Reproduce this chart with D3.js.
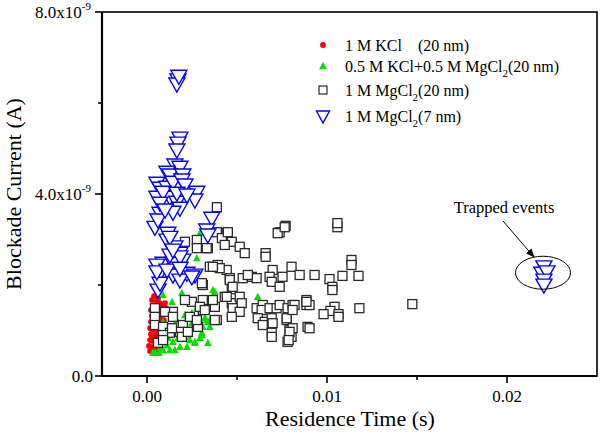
<!DOCTYPE html>
<html><head><meta charset="utf-8">
<script src="https://cdn.jsdelivr.net/npm/d3@7"></script>
<style>
html,body{margin:0;padding:0;background:#fff;}
svg{display:block;}
</style></head>
<body><svg id="c" width="600" height="435"></svg>
<script>
// Residence time in ms, blockade current in nA (x10^-9 A)
const kclX = [0.61,0.55,0.72,0.44,0.66,0.89,1.05,0.33,0.50,0.72,0.89,0.28,0.44,0.61,0.78,0.22,0.39,0.55,0.72,0.17,0.33,0.50,0.66,0.22,0.39,0.55,0.17,0.33,0.50,0.11,0.28,0.44,0.17,0.33,0.55,0.83,0.78,0.61,0.94,2.38,0.28,0.39,0.22,0.61,0.44,0.28,0.66,0.94,1.00,0.83];
const kclY = [1.71,1.63,1.60,1.54,1.52,1.54,1.49,1.43,1.41,1.41,1.38,1.32,1.27,1.30,1.25,1.19,1.16,1.14,1.12,1.05,1.03,1.01,0.99,0.92,0.90,0.88,0.79,0.77,0.75,0.66,0.64,0.66,0.55,0.53,0.57,1.01,0.79,0.68,1.23,0.90,1.67,1.76,1.45,1.19,1.05,0.84,0.84,1.45,1.60,1.12];

const mixX = [3.77,6.15,2.77,2.94,2.94,3.21,2.66,3.05,3.38,1.94,1.39,0.89,0.33,3.32,3.49,2.77,3.49,3.10,2.49,1.83,1.44,1.11,1.83,2.22,2.66,2.94,0.72,0.44,0.89,1.55,1.16,0.83,0.89,3.38,1.99,3.05,2.11,2.38,1.72,1.27,1.66,2.11,2.49,1.27,1.00,3.66,0.66];
const mixY = [1.85,1.74,2.59,3.14,1.27,1.27,0.73,0.90,1.19,1.82,1.63,1.78,0.51,1.23,1.08,1.49,1.23,1.08,1.16,1.01,0.75,0.68,0.64,0.64,0.75,0.84,0.62,0.51,0.57,0.57,0.84,1.05,1.19,0.73,0.95,0.95,0.86,0.79,0.84,1.01,1.23,1.34,1.38,0.57,0.79,1.89,0.51];

const mg20X = [3.88,7.37,7.70,7.26,3.88,4.43,4.16,4.71,4.32,5.15,5.43,3.38,2.77,2.77,6.59,6.59,3.49,3.93,4.43,4.60,4.71,5.32,5.82,6.09,5.60,6.98,6.81,7.53,6.93,7.37,8.03,8.48,9.31,3.10,4.32,4.76,4.71,5.15,5.26,4.76,5.15,4.71,3.77,3.10,3.10,6.09,6.43,6.37,6.81,7.20,7.37,7.81,8.09,6.15,6.54,6.93,6.98,6.43,6.93,6.93,7.76,7.92,8.03,7.81,8.20,8.86,8.86,8.92,3.88,2.77,2.83,10.58,10.58,11.36,11.36,10.14,10.86,11.75,10.30,10.30,11.80,10.42,10.19,9.81,10.64,10.64,14.74,9.03,9.03,7.65,7.76,8.09,7.92,7.87,8.86,8.09,2.11,3.32,4.49,3.05,2.49,2.11,1.44,1.00,0.44,0.44,0.44,0.89,1.44,1.99,2.38,1.83,1.27,0.89,1.39,1.94,0.61,0.89,2.77,2.27,2.94,3.77,4.43,3.66,3.21,4.04,4.60,4.76,3.66];
const mg20Y = [3.71,3.16,3.30,3.14,3.16,3.14,3.03,2.95,2.88,2.84,2.70,2.81,2.99,2.81,2.70,2.62,2.40,2.44,2.33,2.15,1.96,2.15,2.18,2.15,2.22,2.33,2.18,2.18,2.07,1.96,2.40,2.22,2.22,2.00,1.74,1.71,1.60,1.74,1.60,1.49,1.41,1.30,1.52,1.67,1.45,1.49,1.56,1.45,1.49,1.49,1.56,1.49,1.56,1.27,1.19,1.27,1.16,1.12,0.95,0.86,1.23,1.01,0.86,0.75,1.56,1.67,1.56,1.08,1.23,1.19,1.08,3.27,3.36,2.55,2.44,2.13,2.20,2.20,1.96,1.89,1.49,1.52,1.43,1.36,1.36,1.30,1.58,1.05,1.56,3.27,1.27,1.05,0.97,0.79,1.63,1.45,2.95,2.81,3.16,2.04,1.63,1.67,1.41,1.41,1.49,1.30,1.12,1.08,1.30,1.12,1.30,0.97,0.95,0.90,1.05,0.86,0.73,0.79,1.23,0.97,1.52,1.23,1.74,1.67,1.45,2.37,2.11,1.96,2.40];

const mg7X = [1.72,1.66,1.77,1.83,1.72,1.66,1.55,1.83,1.11,1.27,1.99,0.55,0.72,1.11,1.44,1.94,2.11,2.77,2.66,0.55,1.27,1.66,1.83,0.72,1.44,3.60,0.89,1.66,0.72,0.44,0.61,1.16,1.11,1.55,1.83,3.32,3.38,1.99,0.89,0.55,1.44,1.27,1.83,0.72,1.44,2.22,2.66,1.83,0.61,0.72,1.27,1.44,0.55,1.11,1.83,2.49,1.00,2.22,22.05,21.94,22.22,22.05,22.05];
const mg7Y = [6.51,6.42,6.59,5.23,5.12,4.97,4.64,4.59,4.48,4.42,4.42,4.24,4.13,4.15,4.26,4.31,4.20,4.04,3.87,3.93,3.93,3.82,3.69,3.58,3.60,3.47,4.04,4.02,3.80,3.27,3.43,3.14,2.99,2.84,2.70,3.21,3.10,2.55,2.48,2.44,2.48,2.66,2.62,2.26,2.22,2.26,2.22,2.11,1.89,2.04,3.05,2.77,2.29,2.33,2.37,2.18,3.65,3.98,2.40,2.26,2.29,2.11,2.00];

const xMajor = [0, 10, 20];
const xMajorLabels = ["0.00", "0.01", "0.02"];
const xMinor = [5, 15];
const yMajor = [0, 4, 8];
const yMajorLabels = ["0.0", "4.0x10", "8.0x10"];
const yMajorExp = ["", "-9", "-9"];
const yMinor = [2, 6];

const legendLabels = [
  [["1 M KCl    (20 nm)", ""]],
  [["0.5 M KCl+0.5 M MgCl", "2"], ["(20 nm)", ""]],
  [["1 M MgCl", "2"], ["(20 nm)", ""]],
  [["1 M MgCl", "2"], ["(7 nm)", ""]]
];

const FONT = "'Liberation Serif', 'Times New Roman', serif";
const svg = d3.select("#c");
const L = 102, R = 597, T = 12, B = 376;
const x = d3.scaleLinear().domain([-2.5, 25]).range([L, R]);
const y = d3.scaleLinear().domain([0, 8]).range([B, T]);

const zip = (a, b) => a.map((v, i) => [v, b[i]]);

const g = svg.append("g");
g.selectAll(".kcl").data(zip(kclX, kclY)).join("circle")
  .attr("cx", d => x(d[0])).attr("cy", d => y(d[1])).attr("r", 2.9).attr("fill", "#ff0000");

const triUp = (s) => `M0,${-s*0.6}L${s*0.55},${s*0.45}L${-s*0.55},${s*0.45}Z`;
g.selectAll(".mix").data(zip(mixX, mixY)).join("path")
  .attr("transform", d => `translate(${x(d[0])},${y(d[1])})`)
  .attr("d", triUp(7)).attr("fill", "#00e000");

g.selectAll(".mg20").data(zip(mg20X, mg20Y)).join("rect")
  .attr("x", d => x(d[0]) - 4.5).attr("y", d => y(d[1]) - 4.5)
  .attr("width", 9).attr("height", 9)
  .attr("fill", "#fff").attr("stroke", "#2a2a2a").attr("stroke-width", 1.3);

const triDown = (w, h) => `M${-w/2},${-h*0.42}L${w/2},${-h*0.42}L0,${h*0.58}Z`;
g.selectAll(".mg7").data(zip(mg7X, mg7Y)).join("path")
  .attr("transform", d => `translate(${x(d[0])},${y(d[1])})`)
  .attr("d", triDown(16, 14)).attr("fill", "#fff").attr("stroke", "#0000ff").attr("stroke-width", 1.4);

svg.append("rect").attr("x", L).attr("y", T).attr("width", R - L).attr("height", B - T)
  .attr("fill", "none").attr("stroke", "#000").attr("stroke-width", 1.6);
svg.append("line").attr("x1", L).attr("x2", L).attr("y1", T).attr("y2", B + 1).attr("stroke", "#000").attr("stroke-width", 2.2);
svg.append("line").attr("x1", L - 1).attr("x2", R).attr("y1", B).attr("y2", B).attr("stroke", "#000").attr("stroke-width", 2.2);

yMajor.forEach((v, i) => {
  svg.append("line").attr("x1", L - 7).attr("x2", L).attr("y1", y(v)).attr("y2", y(v)).attr("stroke", "#000").attr("stroke-width", 1.6);
  const t = svg.append("text").attr("x", yMajorExp[i] ? 91 : 93).attr("y", y(v) + 6)
    .attr("text-anchor", "end").attr("font-size", 17).style("font-family", FONT);
  t.append("tspan").text(yMajorLabels[i]);
  if (yMajorExp[i]) t.append("tspan").attr("dy", -8).attr("font-size", 11).text(yMajorExp[i]);
});
yMinor.forEach(v => {
  svg.append("line").attr("x1", L - 4).attr("x2", L).attr("y1", y(v)).attr("y2", y(v)).attr("stroke", "#000").attr("stroke-width", 1.6);
});
xMajor.forEach((v, i) => {
  svg.append("line").attr("x1", x(v)).attr("x2", x(v)).attr("y1", B).attr("y2", B + 7).attr("stroke", "#000").attr("stroke-width", 1.6);
  svg.append("text").attr("x", x(v)).attr("y", 402).attr("text-anchor", "middle").attr("font-size", 17)
    .style("font-family", FONT).text(xMajorLabels[i]);
});
xMinor.forEach(v => {
  svg.append("line").attr("x1", x(v)).attr("x2", x(v)).attr("y1", B).attr("y2", B + 4).attr("stroke", "#000").attr("stroke-width", 1.6);
});

svg.append("text").attr("transform", "translate(21,194) rotate(-90)").attr("text-anchor", "middle")
  .attr("font-size", 22).style("font-family", FONT).text("Blockade Current (A)");
svg.append("text").attr("x", 350).attr("y", 426).attr("text-anchor", "middle")
  .attr("font-size", 22).style("font-family", FONT).text("Residence Time (s)");

const legY = [45, 66, 90, 116];
const lx = 323;
svg.append("circle").attr("cx", lx).attr("cy", legY[0]).attr("r", 2.9).attr("fill", "#ff0000");
svg.append("path").attr("transform", `translate(${lx},${legY[1]})`).attr("d", triUp(7)).attr("fill", "#00e000");
svg.append("rect").attr("x", lx - 4).attr("y", legY[2] - 4).attr("width", 8).attr("height", 8)
  .attr("fill", "#fff").attr("stroke", "#2a2a2a").attr("stroke-width", 1.2);
svg.append("path").attr("transform", `translate(${lx},${legY[3]})`).attr("d", triDown(13, 12))
  .attr("fill", "#fff").attr("stroke", "#0000ff").attr("stroke-width", 1.4);
legendLabels.forEach((parts, i) => {
  const t = svg.append("text").attr("x", 345).attr("y", legY[i] + 6).attr("font-size", 16)
    .style("font-family", FONT).attr("xml:space", "preserve").style("white-space", "pre");
  let shift = 0;
  parts.forEach(p => {
    t.append("tspan").attr("dy", -shift).text(p[0]);
    shift = 0;
    if (p[1]) {
      t.append("tspan").attr("dy", 5).attr("font-size", 11).text(p[1]);
      shift = 5;
    }
  });
});

svg.append("text").attr("x", 504).attr("y", 213).attr("text-anchor", "middle").attr("font-size", 16.5)
  .style("font-family", FONT).text("Trapped events");
svg.append("defs").append("marker").attr("id", "ah").attr("viewBox", "0 0 10 10").attr("refX", 9).attr("refY", 5)
  .attr("markerWidth", 9).attr("markerHeight", 9).attr("orient", "auto").attr("markerUnits", "userSpaceOnUse")
  .append("path").attr("d", "M0,1L10,5L0,9Z").attr("fill", "#000");
svg.append("line").attr("x1", 503).attr("y1", 221).attr("x2", 534).attr("y2", 257)
  .attr("stroke", "#000").attr("stroke-width", 1).attr("marker-end", "url(#ah)");
svg.append("ellipse").attr("cx", x(22.0)).attr("cy", y(2.27)).attr("rx", 27.5).attr("ry", 16.5)
  .attr("fill", "none").attr("stroke", "#000").attr("stroke-width", 1);
</script></body></html>
